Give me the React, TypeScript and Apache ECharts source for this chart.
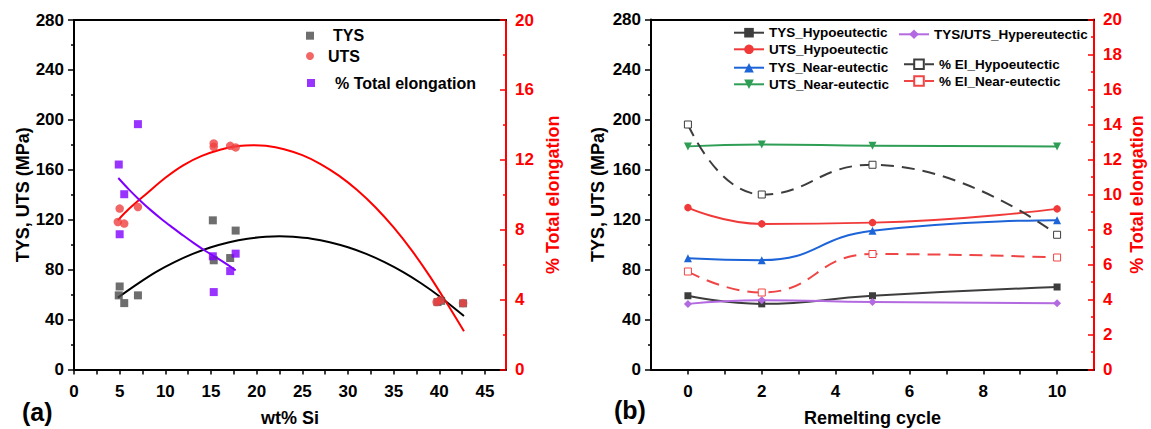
import { useEffect, useRef } from 'react';
import * as echarts from 'echarts';

const FONT = '"Liberation Sans", Arial, Helvetica, sans-serif';

// ---------- Panel (a): properties vs wt% Si ----------
const tysSi = [4.9, 5.0, 5.5, 7.0, 15.2, 15.3, 17.1, 17.7, 39.8, 40.2, 42.6];
const tysVal = [59.4, 66.5, 53.2, 59.4, 119.5, 87.5, 89.3, 111.3, 54, 55, 53];
const utsSi = [5.0, 4.8, 5.5, 7.0, 15.3, 15.3, 17.1, 17.7, 39.7, 40.1, 42.6];
const utsVal = [128.9, 118.2, 116.9, 130.2, 181.1, 178.4, 179.2, 177.9, 54, 55.4, 53.2];
const elSi = [4.9, 5.5, 7.0, 5.0, 15.2, 15.3, 17.1, 17.7];
const elVal = [11.73, 10.03, 14.04, 7.74, 6.48, 4.43, 5.63, 6.63];

// fitted curves
const tysFitSi = [4.8, 7, 9, 11, 13, 15, 17, 19, 21, 22.5, 24, 26, 28, 30, 32, 34, 36, 38, 40, 42.7];
const tysFitVal = [57.6, 68.8, 78.2, 86.0, 92.6, 97.9, 102.0, 104.8, 106.3, 106.7, 106.3, 104.8, 102.0, 97.9, 92.6, 86.0, 78.2, 69.1, 58.7, 42.8];
const utsFitSi = [4.8, 6, 8, 10, 12, 14, 16, 18, 19.6, 21, 23, 25, 27, 29, 31, 33, 35, 37, 39, 41, 42.7];
const utsFitVal = [119.5, 128.5, 141.2, 153.6, 163.8, 171.1, 176.1, 179.0, 179.7, 179.2, 176.5, 171.7, 164.6, 155.3, 143.8, 130.0, 113.8, 95.2, 74.2, 51.0, 30.7];
const elFitSi = [4.85, 6, 7.2, 8.4, 9.6, 10.8, 12, 13.2, 14.4, 15.6, 16.8, 17.7];
const elFitVal = [10.96, 10.31, 9.69, 9.12, 8.6, 8.12, 7.65, 7.2, 6.78, 6.4, 6.0, 5.67];

const siLabels = [0, 5, 10, 15, 20, 25, 30, 35, 40, 45];
const siTicks = [0, 2.5, 5, 7.5, 10, 12.5, 15, 17.5, 20, 22.5, 25, 27.5, 30, 32.5, 35, 37.5, 40, 42.5, 45];

// ---------- Panel (b): properties vs remelting cycle ----------
const cycles = [0, 2, 5, 10];
const tysHypo = [59, 52.5, 59, 66];
const utsHypo = [129.5, 116.5, 117.5, 128.5];
const tysNear = [89, 87.5, 111, 119.5];
const utsNear = [178.5, 180, 179, 178.5];
const tysUtsHyper = [52.5, 55.5, 54, 53];
const elHypo = [14.0, 10.0, 11.7, 7.7];
const elNear = [5.6, 4.4, 6.6, 6.4];

const cycleLabels = [0, 2, 4, 6, 8, 10];
const cycleTicks = [0, 1, 2, 3, 4, 5, 6, 7, 8, 9, 10];

const zip = (xs: number[], ys: number[]) => xs.map((x, i) => [x, ys[i]]);

const BLACK = '#000';
const RED = '#ff0000';

const labelStyle = (color: string) => ({
  fontSize: 17,
  fontWeight: 'bold' as const,
  fontFamily: FONT,
  color,
});
const nameStyle = (color: string) => ({
  fontSize: 18,
  fontWeight: 'bold' as const,
  fontFamily: FONT,
  color,
});

export default function App() {
  const ref = useRef<HTMLDivElement>(null);
  useEffect(() => {
    if (!ref.current) return;
    const chart = echarts.init(ref.current, undefined, { renderer: 'svg' });

    const leftY = (gridIndex: number) => ({
      type: 'value',
      gridIndex,
      position: 'left',
      min: 0,
      max: 280,
      interval: 40,
      axisLine: { show: true, onZero: false, lineStyle: { color: BLACK, width: 2 } },
      axisTick: { show: true, length: 6, lineStyle: { color: BLACK, width: 1.5 } },
      minorTick: { show: true, splitNumber: 2, length: 3, lineStyle: { color: BLACK, width: 1.5 } },
      axisLabel: { ...labelStyle(BLACK), margin: 10 },
      splitLine: { show: false },
      name: 'TYS, UTS (MPa)',
      nameLocation: 'middle',
      nameRotate: 90,
      nameGap: gridIndex === 0 ? 40 : 44,
      nameTextStyle: nameStyle(BLACK),
    });
    const rightY = (gridIndex: number, interval: number) => ({
      type: 'value',
      gridIndex,
      position: 'right',
      min: 0,
      max: 20,
      interval,
      axisLine: { show: true, onZero: false, lineStyle: { color: RED, width: 2 } },
      axisTick: { show: true, inside: true, length: 6, lineStyle: { color: RED, width: 1.5 } },
      minorTick: { show: true, splitNumber: 2, length: 3, lineStyle: { color: RED, width: 1.5 } },
      axisLabel: { ...labelStyle(RED), margin: 9 },
      splitLine: { show: false },
      name: '% Total elongation',
      nameLocation: 'middle',
      nameRotate: 90,
      nameGap: gridIndex === 0 ? 38 : 34,
      nameTextStyle: nameStyle(RED),
    });
    const topBorder = (gridIndex: number, min: number, max: number) => ({
      type: 'value',
      gridIndex,
      position: 'top',
      min,
      max,
      axisLine: { show: true, onZero: false, lineStyle: { color: BLACK, width: 2 } },
      axisTick: { show: false },
      axisLabel: { show: false },
      splitLine: { show: false },
    });

    const legendBase = {
      orient: 'vertical',
      padding: 0,
      selectedMode: false,
    };

    chart.setOption({
      animation: false,
      backgroundColor: '#fff',
      textStyle: { fontFamily: FONT },
      grid: [
        { left: 74, top: 20, width: 432, height: 349.5, outerBoundsMode: 'none', containLabel: false },
        { left: 651, top: 19.5, width: 443, height: 350, outerBoundsMode: 'none', containLabel: false },
      ],
      xAxis: [
        {
          type: 'value',
          gridIndex: 0,
          position: 'bottom',
          min: 0,
          max: 47.3,
          axisLine: { show: true, onZero: false, lineStyle: { color: BLACK, width: 2 } },
          axisTick: { show: true, customValues: siTicks, length: 5, lineStyle: { color: BLACK, width: 1.5 } },
          axisLabel: { ...labelStyle(BLACK), customValues: siLabels, margin: 13 },
          splitLine: { show: false },
          name: 'wt% Si',
          nameLocation: 'middle',
          nameGap: 39.5,
          nameTextStyle: nameStyle(BLACK),
        },
        topBorder(0, 0, 47.3),
        {
          type: 'value',
          gridIndex: 1,
          position: 'bottom',
          min: -1,
          max: 11,
          axisLine: { show: true, onZero: false, lineStyle: { color: BLACK, width: 2 } },
          axisTick: { show: true, customValues: cycleTicks, length: 5, lineStyle: { color: BLACK, width: 1.5 } },
          axisLabel: { ...labelStyle(BLACK), customValues: cycleLabels, margin: 13 },
          splitLine: { show: false },
          name: 'Remelting cycle',
          nameLocation: 'middle',
          nameGap: 39.5,
          nameTextStyle: nameStyle(BLACK),
        },
        topBorder(1, -1, 11),
      ],
      yAxis: [leftY(0), rightY(0, 4), leftY(1), rightY(1, 2)],
      legend: [
        {
          ...legendBase, data: ['TYS'], left: 306, top: 27.7, itemWidth: 8, itemHeight: 8,
          textStyle: { fontSize: 16, fontWeight: 'bold', fontFamily: FONT, color: BLACK, padding: [0, 0, 0, 14] },
        },
        {
          ...legendBase, data: ['UTS'], left: 306, top: 48, itemWidth: 8, itemHeight: 8,
          textStyle: { fontSize: 16, fontWeight: 'bold', fontFamily: FONT, color: BLACK, padding: [0, 0, 0, 9] },
        },
        {
          ...legendBase, data: ['% Total elongation'], left: 307, top: 75, itemWidth: 8, itemHeight: 8,
          textStyle: { fontSize: 16, fontWeight: 'bold', fontFamily: FONT, color: BLACK, padding: [0, 0, 0, 15] },
        },
        ...[
          ['TYS_Hypoeutectic', 733, 31.7],
          ['UTS_Hypoeutectic', 733, 48.3],
          ['TYS_Near-eutectic', 733, 66.7],
          ['UTS_Near-eutectic', 733, 83.3],
          ['TYS/UTS_Hypereutectic', 898, 33.3],
          ['% El_Hypoeutectic', 903, 63.3],
          ['% El_Near-eutectic', 903, 80],
        ].map(([name, left, cy]) => ({
          ...legendBase,
          data: [name],
          left,
          top: (cy as number) - 6,
          itemWidth: 30,
          itemHeight: 12,
          textStyle: { fontSize: 13.5, fontWeight: 'bold', fontFamily: FONT, color: BLACK },
        })),
      ],
      graphic: [
        {
          type: 'text', left: 22, top: 399,
          style: { text: '(a)', fontSize: 25, fontWeight: 'bold', fontFamily: FONT, fill: BLACK },
        },
        {
          type: 'text', left: 614, top: 397,
          style: { text: '(b)', fontSize: 25, fontWeight: 'bold', fontFamily: FONT, fill: BLACK },
        },
      ],
      series: [
        // ---- panel (a) ----
        {
          name: 'TYS_fit', type: 'line', xAxisIndex: 0, yAxisIndex: 0,
          data: zip(tysFitSi, tysFitVal), smooth: 0.3, showSymbol: false,
          lineStyle: { color: '#000', width: 2 }, z: 2,
        },
        {
          name: 'UTS_fit', type: 'line', xAxisIndex: 0, yAxisIndex: 0,
          data: zip(utsFitSi, utsFitVal), smooth: 0.3, showSymbol: false,
          lineStyle: { color: '#ff0000', width: 2 }, z: 2,
        },
        {
          name: 'El_fit', type: 'line', xAxisIndex: 0, yAxisIndex: 1,
          data: zip(elFitSi, elFitVal), smooth: 0.3, showSymbol: false,
          lineStyle: { color: '#7f00ff', width: 2 }, z: 2,
        },
        {
          name: 'TYS', type: 'scatter', xAxisIndex: 0, yAxisIndex: 0,
          data: zip(tysSi, tysVal), symbol: 'rect', symbolSize: 8,
          itemStyle: { color: '#4a4a4a' }, z: 3,
        },
        {
          name: 'UTS', type: 'scatter', xAxisIndex: 0, yAxisIndex: 0,
          data: zip(utsSi, utsVal), symbol: 'circle', symbolSize: 8.5,
          itemStyle: { color: '#f04040' }, z: 4,
        },
        {
          name: '% Total elongation', type: 'scatter', xAxisIndex: 0, yAxisIndex: 1,
          data: zip(elSi, elVal), symbol: 'rect', symbolSize: 8,
          itemStyle: { color: '#7f00ff' }, z: 5,
        },
        // ---- panel (b) ----
        {
          name: 'TYS_Hypoeutectic', type: 'line', xAxisIndex: 2, yAxisIndex: 2,
          data: zip(cycles, tysHypo), smooth: true, symbol: 'rect', symbolSize: 7,
          itemStyle: { color: '#3d3d3d' }, lineStyle: { color: '#3d3d3d', width: 2 },
        },
        {
          name: 'UTS_Hypoeutectic', type: 'line', xAxisIndex: 2, yAxisIndex: 2,
          data: zip(cycles, utsHypo), smooth: true, symbol: 'circle', symbolSize: 7.5,
          itemStyle: { color: '#f03a3a' }, lineStyle: { color: '#f03a3a', width: 2 },
        },
        {
          name: 'TYS_Near-eutectic', type: 'line', xAxisIndex: 2, yAxisIndex: 2,
          data: zip(cycles, tysNear), smooth: true, symbol: 'triangle', symbolSize: 8,
          itemStyle: { color: '#1c64d8' }, lineStyle: { color: '#1c64d8', width: 2 },
        },
        {
          name: 'UTS_Near-eutectic', type: 'line', xAxisIndex: 2, yAxisIndex: 2,
          data: zip(cycles, utsNear), smooth: true, symbol: 'triangle', symbolRotate: 180, symbolSize: 8,
          itemStyle: { color: '#2f9e55' }, lineStyle: { color: '#2f9e55', width: 2 },
        },
        {
          name: 'TYS/UTS_Hypereutectic', type: 'line', xAxisIndex: 2, yAxisIndex: 2,
          data: zip(cycles, tysUtsHyper), smooth: true, symbol: 'diamond', symbolSize: 8,
          itemStyle: { color: '#b36ae0' }, lineStyle: { color: '#b36ae0', width: 2 },
        },
        {
          name: '% El_Hypoeutectic', type: 'line', xAxisIndex: 2, yAxisIndex: 3,
          data: zip(cycles, elHypo), smooth: true, symbol: 'rect', symbolSize: 7,
          itemStyle: { color: '#fff', borderColor: '#3d3d3d', borderWidth: 1 },
          lineStyle: { color: '#3d3d3d', width: 2, type: [13, 8] },
        },
        {
          name: '% El_Near-eutectic', type: 'line', xAxisIndex: 2, yAxisIndex: 3,
          data: zip(cycles, elNear), smooth: true, symbol: 'rect', symbolSize: 7,
          itemStyle: { color: '#fff', borderColor: '#f04545', borderWidth: 1 },
          lineStyle: { color: '#f04545', width: 2, type: [13, 8] },
        },
      ],
    });
    return () => chart.dispose();
  }, []);

  return (
    <div
      ref={ref}
      style={{ position: 'fixed', left: 0, top: 0, width: 1151, height: 429, background: '#fff' }}
    />
  );
}
